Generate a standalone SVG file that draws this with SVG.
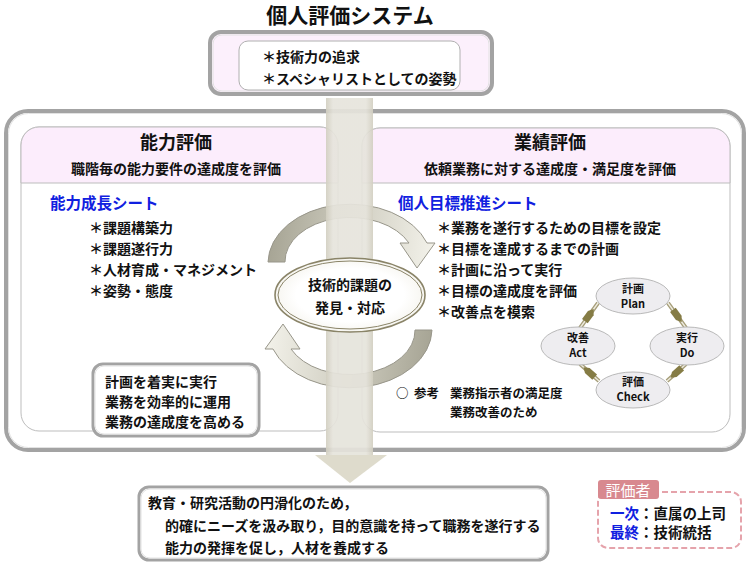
<svg xmlns="http://www.w3.org/2000/svg" width="750" height="563" viewBox="0 0 750 563">
<defs>
<linearGradient id="barG" x1="0" x2="1" y1="0" y2="0">
<stop offset="0" stop-color="#d2cfc1"/><stop offset="0.15" stop-color="#e6e4dc"/><stop offset="0.85" stop-color="#e6e4dc"/><stop offset="1" stop-color="#d2cfc1"/>
</linearGradient>
<linearGradient id="arcG" gradientUnits="userSpaceOnUse" x1="270" y1="230" x2="430" y2="250">
<stop offset="0" stop-color="#a6a494"/><stop offset="0.5" stop-color="#cfcdc0"/><stop offset="1" stop-color="#f1f0e8"/>
</linearGradient>
<radialGradient id="ellG" cx="0.5" cy="0.5" r="0.6">
<stop offset="0.6" stop-color="#ffffff"/><stop offset="1" stop-color="#f1efe6"/>
</radialGradient>
<path id="arc" d="M268,262 A82,59 0 0 1 427,243 L435,243 L417,268 L400,243 L409,243 A65,44 0 0 0 285,262 Z"/>
<polygon id="pdA" points="-7,-3.5 3,-3.5 8,0 3,3.5 -7,3.5"/>
</defs>
<style>
.t{font-family:"Noto Sans CJK JP","Noto Sans",sans-serif;font-weight:bold;fill:#111}
.s14{font-size:14px}
.s13{font-size:12.5px}
.s11{font-size:11px}
.h{font-size:18px}
.blue{fill:#1020e0;font-size:15.5px}
.mid{text-anchor:middle}
.frameI{fill:none;stroke:#e2e2e2;stroke-width:1}
.panel{fill:#fff;stroke:#bdbdbd;stroke-width:1}
.head{fill:#fcedfc;stroke:#bdbdbd;stroke-width:1}
.conn{stroke:#a59d78;stroke-width:4;fill:none}
.connI{stroke:#efece0;stroke-width:1.3;fill:none}
.pd{fill:#eeedf0;stroke:#b9b9b9;stroke-width:1}
</style>

<text class="t mid" x="350" y="23" font-size="21">個人評価システム</text>

<g id="top-box">
<rect x="210" y="32" width="282" height="62" rx="11" fill="#fcf0fc" stroke="#a3a3a3" stroke-width="4"/>
<rect x="213" y="35" width="276" height="56" rx="9" class="frameI"/>
<rect x="239" y="41" width="221" height="49" rx="9" fill="#fff" stroke="#b0b0b0" stroke-width="1"/>
<text class="t s14" x="262" y="62">＊技術力の追求</text>
<text class="t s14" x="262" y="84">＊スペシャリストとしての姿勢</text>
</g>

<g id="outer-frame">
<rect x="6" y="111" width="738" height="339" rx="22" fill="#fff" stroke="#a3a3a3" stroke-width="4"/>
<rect x="8.5" y="113.5" width="733" height="334" rx="20" class="frameI"/>
</g>

<g id="left-panel">
<rect x="21" y="127" width="317" height="304" rx="18" class="panel"/>
<path d="M21,183 V145 A18,18 0 0 1 39,127 H320 A18,18 0 0 1 338,145 V183 Z" class="head"/>
<text class="t h mid" x="176" y="149">能力評価</text>
<text class="t s14 mid" x="176" y="174">職階毎の能力要件の達成度を評価</text>
<text class="t blue" x="50" y="209">能力成長シート</text>
<text class="t s14" x="89" y="233">＊課題構築力</text>
<text class="t s14" x="89" y="254">＊課題遂行力</text>
<text class="t s14" x="89" y="275">＊人材育成・マネジメント</text>
<text class="t s14" x="89" y="296">＊姿勢・態度</text>
</g>

<g id="right-panel">
<rect x="362" y="128" width="368" height="304" rx="18" class="panel"/>
<path d="M362,183 V146 A18,18 0 0 1 380,128 H712 A18,18 0 0 1 730,146 V183 Z" class="head"/>
<text class="t h mid" x="550" y="149">業績評価</text>
<text class="t s14 mid" x="550" y="174">依頼業務に対する達成度・満足度を評価</text>
<text class="t blue" x="398" y="209">個人目標推進シート</text>
<text class="t s14" x="437" y="233">＊業務を遂行するための目標を設定</text>
<text class="t s14" x="437" y="254">＊目標を達成するまでの計画</text>
<text class="t s14" x="437" y="275">＊計画に沿って実行</text>
<text class="t s14" x="437" y="296">＊目標の達成度を評価</text>
<text class="t s14" x="437" y="317">＊改善点を模索</text>
<text class="t s13" x="396" y="398">○</text>
<text class="t s13" x="414" y="398">参考</text>
<text class="t s13" x="450" y="398">業務指示者の満足度</text>
<text class="t s13" x="450" y="417">業務改善のため</text>
</g>

<g id="left-subbox">
<rect x="93" y="364" width="166" height="72" rx="10" fill="#fff" stroke="#a3a3a3" stroke-width="3"/>
<rect x="95" y="366" width="162" height="68" rx="9" class="frameI"/>
<text class="t s14" x="105" y="387">計画を着実に実行</text>
<text class="t s14" x="105" y="407">業務を効率的に運用</text>
<text class="t s14" x="105" y="427">業務の達成度を高める</text>
</g>

<g id="cycle-arrows">
<use href="#arc" fill="url(#arcG)" stroke="#98968a" stroke-width="1"/>
<use href="#arc" fill="url(#arcG)" stroke="#98968a" stroke-width="1" transform="rotate(180 350 296)"/>
</g>

<g id="flow-arrow" opacity="0.92">
<rect x="326" y="98" width="47" height="358" fill="url(#barG)"/>
<polygon points="315,455 387,455 350,483" fill="#dcd9c8"/>
</g>

<g id="center-ellipse">
<ellipse cx="350" cy="295" rx="75" ry="37" fill="url(#ellG)" stroke="#8a8468" stroke-width="1.6"/>
<ellipse cx="350" cy="295" rx="72" ry="34" fill="none" stroke="#8a8468" stroke-width="1"/>
<text class="t s14 mid" x="350" y="290">技術的課題の</text>
<text class="t s14 mid" x="350" y="313">発見・対応</text>
</g>

<g id="connectors">
<line x1="668" y1="303" x2="686" y2="328" class="conn"/><line x1="668" y1="303" x2="686" y2="328" class="connI"/>
<line x1="686" y1="364" x2="667" y2="381" class="conn"/><line x1="686" y1="364" x2="667" y2="381" class="connI"/>
<line x1="599" y1="381" x2="580" y2="364" class="conn"/><line x1="599" y1="381" x2="580" y2="364" class="connI"/>
<line x1="580" y1="328" x2="598" y2="303" class="conn"/><line x1="580" y1="328" x2="598" y2="303" class="connI"/>
<use href="#pdA" fill="#857c45" transform="translate(677,315.5) rotate(54)"/>
<use href="#pdA" fill="#857c45" transform="translate(676.5,372.5) rotate(138)"/>
<use href="#pdA" fill="#857c45" transform="translate(589.5,372.5) rotate(222)"/>
<use href="#pdA" fill="#857c45" transform="translate(589,315.5) rotate(-54)"/>
</g>

<g id="plan">
<ellipse cx="633" cy="296" rx="37" ry="18" class="pd"/>
<text class="t s11 mid" x="633" y="293">計画</text>
<text class="t s11 mid" x="633" y="308">Plan</text>
</g>
<g id="do">
<ellipse cx="687" cy="346" rx="37" ry="19" class="pd"/>
<text class="t s11 mid" x="687" y="342">実行</text>
<text class="t s11 mid" x="687" y="357">Do</text>
</g>
<g id="check">
<ellipse cx="633" cy="390" rx="37" ry="18" class="pd"/>
<text class="t s11 mid" x="633" y="386">評価</text>
<text class="t s11 mid" x="633" y="401">Check</text>
</g>
<g id="act">
<ellipse cx="578" cy="346" rx="37" ry="19" class="pd"/>
<text class="t s11 mid" x="578" y="342">改善</text>
<text class="t s11 mid" x="578" y="357">Act</text>
</g>

<g id="bottom-box">
<rect x="139" y="487" width="409" height="73" rx="10" fill="#fff" stroke="#a3a3a3" stroke-width="3"/>
<rect x="141" y="489" width="405" height="69" rx="9" class="frameI"/>
<text class="t s14" x="148" y="508">教育・研究活動の円滑化のため，</text>
<text class="t s14" x="165" y="531">的確にニーズを汲み取り，目的意識を持って職務を遂行する</text>
<text class="t s14" x="165" y="553">能力の発揮を促し，人材を養成する</text>
</g>

<g id="evaluator">
<rect x="598" y="492" width="143" height="56" rx="10" fill="#fff" stroke="#e5a3ab" stroke-width="2" stroke-dasharray="6 3"/>
<rect x="598" y="480" width="61" height="19" rx="3" fill="#d8898f"/>
<text class="mid" x="628" y="496" font-family="Noto Sans CJK JP, sans-serif" font-size="15" fill="#fff">評価者</text>
<text class="t" x="610" y="519" font-size="14.5"><tspan fill="#1020e0">一次</tspan>：直属の上司</text>
<text class="t" x="610" y="538" font-size="14.5"><tspan fill="#1020e0">最終</tspan>：技術統括</text>
</g>
</svg>
